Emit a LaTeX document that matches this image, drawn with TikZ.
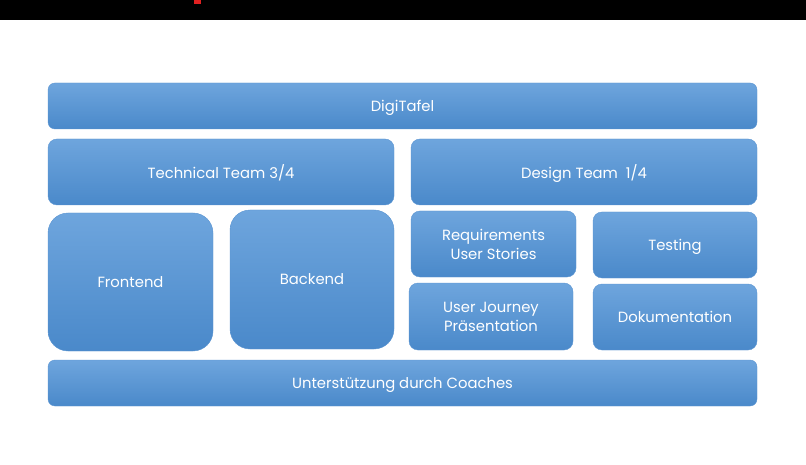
\documentclass[tikz,border=0pt]{standalone}
\usepackage{fontspec}
\setmainfont{Poppins}
\definecolor{boxtop}{HTML}{6EA5DD}
\definecolor{boxbot}{HTML}{4A89CA}
\definecolor{boxedge}{HTML}{5B95D2}
\definecolor{redmark}{HTML}{E02020}
\tikzset{
  tile/.style={rectangle, top color=boxtop, bottom color=boxbot, draw=boxedge, line width=0.4pt,
    text=white, align=center, inner sep=0pt, font=\fontsize{14.8}{19}\selectfont,
    text depth=0pt, rounded corners=9pt},
  bigtile/.style={tile, rounded corners=20pt},
}
\begin{document}
\begin{tikzpicture}[x=1pt,y=-1pt]
\useasboundingbox[fill=white] (0,0) rectangle (806,465);
\fill[black] (0,0) rectangle (806,20);
\fill[redmark] (194,0) rectangle (201,4);
\node[tile, rounded corners=7pt, minimum width=709pt, minimum height=46pt] (digi) at (402.5,106) {DigiTafel};
\node[tile, minimum width=346pt, minimum height=66pt] (tech) at (221,172) {Technical Team 3/4};
\node[tile, minimum width=346pt, minimum height=66pt] (design) at (584,172) {Design Team \ 1/4};
\node[bigtile, minimum width=165pt, minimum height=138pt] (front) at (130.5,282) {Frontend};
\node[bigtile, minimum width=164pt, minimum height=139pt] (back) at (312,279.5) {Backend};
\node[tile, minimum width=165pt, minimum height=66pt] (req) at (493.5,244) {Requirements\\User Stories};
\node[tile, minimum width=164pt, minimum height=67pt] (journey) at (491,316.5) {User Journey\\Präsentation};
\node[tile, minimum width=164pt, minimum height=66pt] (test) at (675,245) {Testing};
\node[tile, minimum width=164pt, minimum height=66pt] (doku) at (675,317) {Dokumentation};
\node[tile, rounded corners=7pt, minimum width=709pt, minimum height=46pt] (coach) at (402.5,383) {Unterstützung durch Coaches};
\end{tikzpicture}
\end{document}
